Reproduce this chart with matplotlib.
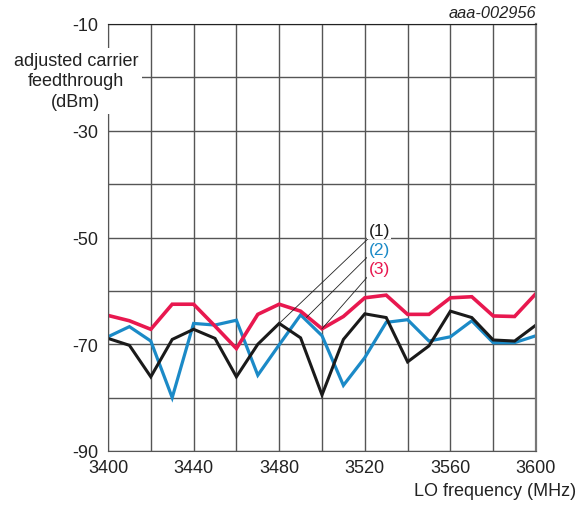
import matplotlib.pyplot as plt
import numpy as np

plt.rcParams['font.family'] = ['Liberation Sans', 'DejaVu Sans']
plt.rcParams['axes.unicode_minus'] = False

# LO frequency (MHz)
freq = np.arange(3400, 3601, 10)

# adjusted carrier feedthrough (dBm)
curve1 = [-68.9, -70.2, -76.1, -69.1, -67.2, -68.9, -76.1, -70.0, -66.1, -68.8, -79.5,
          -69.1, -64.3, -65.0, -73.3, -70.3, -63.8, -65.0, -69.2, -69.4, -66.4]
curve2 = [-68.6, -66.7, -69.4, -80.0, -66.1, -66.4, -65.5, -75.8, -70.1, -64.5, -68.4,
          -77.7, -72.5, -65.9, -65.4, -69.4, -68.6, -65.6, -69.7, -69.7, -68.4]
curve3 = [-64.6, -65.6, -67.2, -62.5, -62.5, -66.6, -70.8, -64.4, -62.5, -63.8, -67.1,
          -64.8, -61.3, -60.8, -64.4, -64.4, -61.3, -61.1, -64.7, -64.8, -60.5]

labels = ['(1)', '(2)', '(3)']
colors = ['#1a1a1a', '#1b8ac7', '#e8184f']

fig = plt.figure(figsize=(5.85, 5.06), dpi=100)
ax = fig.add_axes([108 / 585, 1 - 452 / 506, 428 / 585, 427 / 506])

grid_c = '#555555'
ax.set_xlim(3400, 3600)
ax.set_ylim(-90, -10)
ax.set_xticks(np.arange(3400, 3601, 40))
ax.set_xticks(np.arange(3400, 3601, 20), minor=True)
ax.set_yticks(np.arange(-90, -9, 20))
ax.set_yticks(np.arange(-90, -9, 10), minor=True)
ax.grid(which='both', color=grid_c, linewidth=1.0)
ax.tick_params(which='both', length=0, labelsize=13, colors='#222222')
ax.tick_params(axis='y', pad=7)
ax.tick_params(axis='x', pad=6)
for side in ['left', 'right', 'bottom', 'top']:
    ax.spines[side].set_color(grid_c)
ax.spines['top'].set_color('#222222')
ax.spines['right'].set_linewidth(1.6)
ax.spines['right'].set_color('#777777')

ax.plot(freq, curve2, color=colors[1], linewidth=2.3, solid_joinstyle='miter')
ax.plot(freq, curve1, color=colors[0], linewidth=2.2, solid_joinstyle='miter')
ax.plot(freq, curve3, color=colors[2], linewidth=2.6, solid_joinstyle='miter')

# callouts
targets = [(freq[8], curve1[8]), (3492.8, -64.95), (freq[10], curve3[10])]
label_y = [-48.6, -52.3, -55.9]
line_y = [-50.2, -53.5, -57.2]
for lab, col, (tx, ty), ly, lly in zip(labels, colors, targets, label_y, line_y):
    ax.plot([tx, 3521.6], [ty, lly], color='#222222', linewidth=0.6)
    ax.text(3521.8, ly, lab, color=col, fontsize=12.5, ha='left', va='center',
            bbox=dict(facecolor='white', edgecolor='none', pad=1.0))

fig.text(76 / 585, 1 - 82 / 506, 'adjusted carrier\nfeedthrough\n(dBm)',
         ha='center', va='center', fontsize=13, linespacing=1.25, color='#222222',
         bbox=dict(facecolor='white', edgecolor='none', pad=3))
fig.text(576 / 585, 1 - 492 / 506, 'LO frequency (MHz)', ha='right', va='center',
         fontsize=13, color='#222222')
fig.text(536 / 585, 1 - 13 / 506, 'aaa-002956', ha='right', va='center',
         fontsize=11.8, style='italic', color='#222222')

fig.savefig('out.png', dpi=100)
